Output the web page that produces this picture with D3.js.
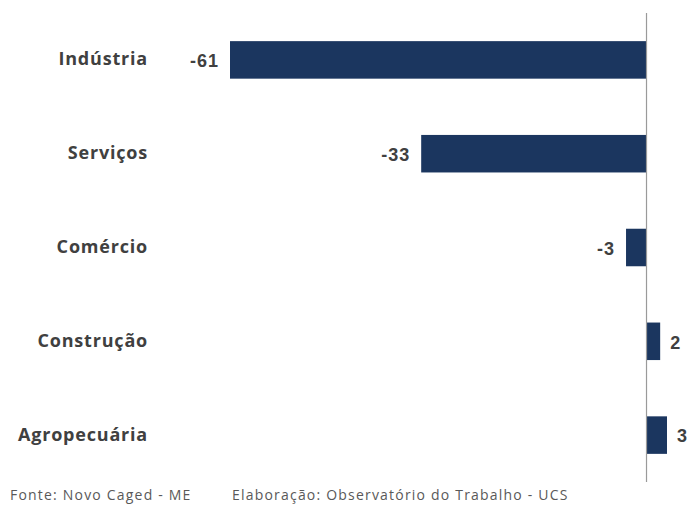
<!DOCTYPE html>
<html>
<head>
<meta charset="utf-8">
<script src="https://cdn.jsdelivr.net/npm/d3@7"></script>
<style>
  body { margin: 0; background: #fff; }
  .cat { font-family: "Open Sans", Lato, sans-serif; font-weight: bold; font-size: 18px; letter-spacing: 0.8px; fill: #404040; }
  .val { font-family: "Liberation Sans", Arial, sans-serif; font-weight: bold; font-size: 18px; letter-spacing: 1px; fill: #404040; }
  .note { font-family: "Open Sans", Lato, sans-serif; font-size: 14px; letter-spacing: 1.2px; fill: #595959; }
</style>
</head>
<body>
<div id="vis"></div>
<script>
// dados
var categories = ['Indústria', 'Serviços', 'Comércio', 'Construção', 'Agropecuária'];
var values = [-61, -33, -3, 2, 3];
var fonte = 'Fonte: Novo Caged - ME';
var elaboracao = 'Elaboração: Observatório do Trabalho - UCS';

var width = 689;
var height = 509;

var svg = d3.select('#vis')
    .append('svg')
    .attr('width', width)
    .attr('height', height);

var x = d3.scaleLinear()
    .domain([-61, 3])
    .range([230, 667]);

var y = d3.scaleBand()
    .domain(categories)
    .range([13, 482])
    .paddingInner(0.6)
    .paddingOuter(0.3);

var rows = categories.map(function (c, i) { return { cat: c, value: values[i] }; });

// barras
svg.selectAll('.bar')
    .data(rows)
  .enter().append('rect')
    .attr('class', 'bar')
    .attr('x', function (d) { return x(Math.min(0, d.value)); })
    .attr('y', function (d) { return y(d.cat); })
    .attr('width', function (d) { return Math.abs(x(d.value) - x(0)); })
    .attr('height', y.bandwidth())
    .attr('fill', '#1b365f');

// eixo vertical no zero
svg.append('line')
    .attr('x1', x(0)).attr('x2', x(0))
    .attr('y1', 13).attr('y2', 482)
    .attr('stroke', '#9a9a9a')
    .attr('stroke-width', 1.2);

// categorias
svg.selectAll('.cat')
    .data(rows)
  .enter().append('text')
    .attr('class', 'cat')
    .attr('x', 148)
    .attr('y', function (d) { return y(d.cat) + y.bandwidth() / 2; })
    .attr('dy', '0.3em')
    .attr('text-anchor', 'end')
    .text(function (d) { return d.cat; });

// rótulos de valor
svg.selectAll('.val')
    .data(rows)
  .enter().append('text')
    .attr('class', 'val')
    .attr('x', function (d) { return d.value < 0 ? x(d.value) - 11 : x(d.value) + 10; })
    .attr('y', function (d) { return y(d.cat) + y.bandwidth() / 2; })
    .attr('dy', '0.4em')
    .attr('text-anchor', function (d) { return d.value < 0 ? 'end' : 'start'; })
    .text(function (d) { return d.value; });

// rodapé
svg.append('text').attr('class', 'note').attr('x', 10).attr('y', 500).text(fonte);
svg.append('text').attr('class', 'note').attr('x', 232).attr('y', 500).text(elaboracao);
</script>
</body>
</html>
